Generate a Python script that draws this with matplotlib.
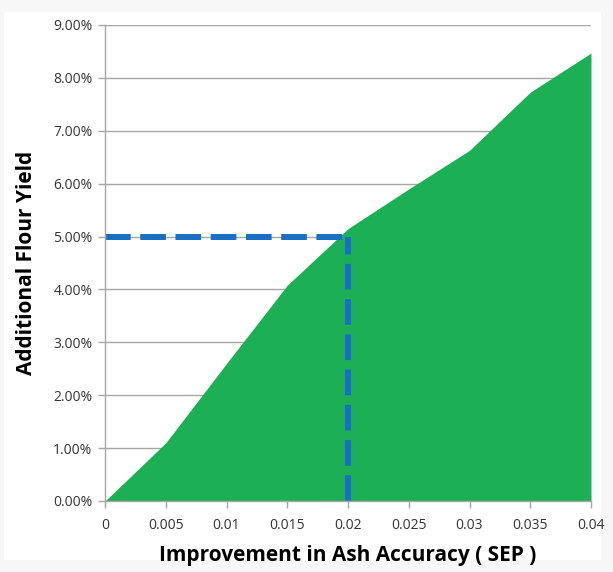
import numpy as np
import matplotlib
matplotlib.use("Agg")
import matplotlib.pyplot as plt
from matplotlib.ticker import FuncFormatter, MultipleLocator
import matplotlib.patches as mpatches

# ── Data ──────────────────────────────────────────────────────────────────────
sep_improvement = [0.0, 0.005, 0.01, 0.015, 0.02, 0.025, 0.03, 0.035, 0.04]
flour_yield = [0.0, 1.10, 2.60, 4.08, 5.15, 5.90, 6.63, 7.73, 8.47]   # percent

target_x = 0.02
target_y = 5.0

x_ticks = [0, 0.005, 0.01, 0.015, 0.02, 0.025, 0.03, 0.035, 0.04]
x_ticklabels = ['0', '0.005', '0.01', '0.015', '0.02', '0.025', '0.03', '0.035', '0.04']

plt.rcParams['font.family'] = ['Open Sans', 'DejaVu Sans']

fig = plt.figure(figsize=(6.13, 5.72), dpi=100)
fig.patch.set_facecolor('#f7f7f7')
# white chart card behind everything
fig.patches.append(mpatches.Rectangle((4 / 613, 12 / 572), 597 / 613, 548 / 572,
                                      transform=fig.transFigure, facecolor='white',
                                      edgecolor='none', zorder=-10))

ax = fig.add_axes([105 / 613, 71 / 572, 486 / 613, 476 / 572])
ax.set_zorder(1)
ax.set_facecolor('white')

# area
ax.fill_between(sep_improvement, 0, flour_yield, color='#1daf56', linewidth=0, zorder=2)

# dashed guide lines at the 5% target
guide = dict(color='#1a6fc4', linewidth=4.3, dashes=(4.3, 1.6), solid_capstyle='butt', zorder=3)
ax.plot([0, target_x], [target_y, target_y], **guide)
ax.plot([target_x, target_x], [0, target_y], **guide)

# axes
ax.set_xlim(0, 0.04)
ax.set_ylim(0, 9)
ax.set_xticks(x_ticks)
ax.set_xticklabels(x_ticklabels)
ax.yaxis.set_major_locator(MultipleLocator(1))
ax.yaxis.set_major_formatter(FuncFormatter(lambda v, p: f'{v:.2f}%'))

ax.grid(axis='y', color='#a6a6a6', linewidth=1.0, zorder=1)
ax.set_axisbelow(True)
for s in ['top', 'right']:
    ax.spines[s].set_visible(False)
for s in ['left', 'bottom']:
    ax.spines[s].set_color('#a6a6a6')
    ax.spines[s].set_linewidth(1.0)
    ax.spines[s].set_zorder(4)

ax.tick_params(axis='both', direction='out', length=5, width=1.0, color='#a6a6a6',
               labelsize=10, labelcolor='#333333')
ax.tick_params(axis='x', pad=7)
ax.tick_params(axis='y', pad=4)

ax.set_xlabel('Improvement in Ash Accuracy ( SEP )', fontsize=15, fontweight='bold',
              color='black', labelpad=9)
ax.set_ylabel('Additional Flour Yield', fontsize=15, fontweight='bold',
              color='black', labelpad=12)

fig.savefig('out.png', dpi=100, facecolor=fig.get_facecolor())
